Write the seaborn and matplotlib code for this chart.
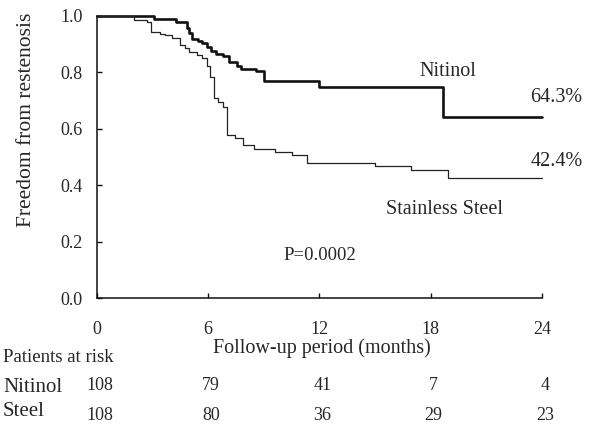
import pandas as pd
import numpy as np
import seaborn as sns
import matplotlib.pyplot as plt

# Kaplan-Meier curves (months, freedom from restenosis)
nitinol_t = [0, 3.1, 4.25, 4.85, 5.0, 5.15, 5.45, 5.7, 5.95, 6.15, 6.45, 6.8,
             7.15, 7.55, 7.75, 8.6, 9.0, 12.0, 18.65, 24]
nitinol_s = [1.0, 0.99, 0.979, 0.955, 0.938, 0.917, 0.912, 0.903, 0.89, 0.875,
             0.865, 0.858, 0.837, 0.822, 0.812, 0.803, 0.769, 0.749, 0.643, 0.643]

steel_t = [0, 2.0, 2.7, 2.93, 3.4, 3.7, 4.05, 4.5, 4.76, 4.95, 5.4, 5.7, 5.92,
           6.11, 6.3, 6.55, 6.82, 7.0, 7.45, 7.87, 8.48, 9.6, 10.55, 11.35,
           15.0, 16.95, 18.95, 24]
steel_s = [1.0, 0.985, 0.976, 0.944, 0.937, 0.930, 0.92, 0.897, 0.885, 0.872,
           0.862, 0.851, 0.822, 0.784, 0.708, 0.696, 0.678, 0.578, 0.566, 0.542,
           0.530, 0.518, 0.506, 0.479, 0.468, 0.453, 0.424, 0.424]

# patients at risk table
risk_months = [0, 6, 12, 18, 24]
risk_nitinol = [108, 79, 41, 7, 4]
risk_steel = [108, 80, 36, 29, 23]

df_nit = pd.DataFrame({'months': nitinol_t, 'surv': nitinol_s})
df_st = pd.DataFrame({'months': steel_t, 'surv': steel_s})

sns.set_style("ticks")
plt.rcParams['font.family'] = ['Liberation Serif', 'DejaVu Serif']

W, H = 594, 425
fig = plt.figure(figsize=(W / 100, H / 100), dpi=100)
ax = fig.add_axes([96.7 / W, 1 - 298.3 / H, 445.4 / W, 282.6 / H])

sns.lineplot(data=df_nit, x='months', y='surv', ax=ax, estimator=None, sort=False,
             drawstyle='steps-post', color='#111111', linewidth=1.9, clip_on=False)
sns.lineplot(data=df_st, x='months', y='surv', ax=ax, estimator=None, sort=False,
             drawstyle='steps-post', color='#222222', linewidth=0.9, clip_on=False)

ax.set_xlim(0, 24)
ax.set_ylim(0, 1)
ax.set_xticks(risk_months)
ax.set_yticks(np.arange(0, 1.01, 0.2))
ax.set_yticklabels([f"{v:.1f}" for v in np.arange(0, 1.01, 0.2)])
sns.despine(ax=ax)
for s in ['left', 'bottom']:
    ax.spines[s].set_linewidth(1.1)
    ax.spines[s].set_color('#111111')
ax.tick_params(axis='both', direction='in', length=3.5, width=1.0, color='#111111',
               labelsize=13)
ax.tick_params(axis='x', pad=16)
ax.tick_params(axis='y', pad=10)

ax.set_xlabel('Follow-up period (months)', fontsize=14.5)
ax.xaxis.set_label_coords(0.505, -0.143)
ax.set_ylabel('Freedom from restenosis', fontsize=15.5)
ax.yaxis.set_label_coords(-0.137, 0.631)

# curve annotations
def ftext(px, py, s, size, **kw):
    fig.text(px / W, 1 - py / H, s, fontsize=size, va='center', **kw)

ftext(448, 72, 'Nitinol', 14.5, ha='center')
ftext(556, 98, '64.3%', 14.5, ha='center')
ftext(557, 162, '42.4%', 14.5, ha='center')
ftext(445, 210, 'Stainless Steel', 14.5, ha='center')
ftext(320, 256, 'P=0.0002', 13.5, ha='center')

# patients at risk
ftext(3, 358, 'Patients at risk', 13.5, ha='left')
ftext(3, 388, 'Nitinol', 15, ha='left')
ftext(3, 412, 'Steel', 15, ha='left')
for m, a, b in zip(risk_months, risk_nitinol, risk_steel):
    px = ax.transData.transform((m, 0))[0]
    ftext(px + 3, 386, str(a), 13, ha='center')
    ftext(px + 3, 415, str(b), 13, ha='center')

fig.savefig('out.png', dpi=100)
